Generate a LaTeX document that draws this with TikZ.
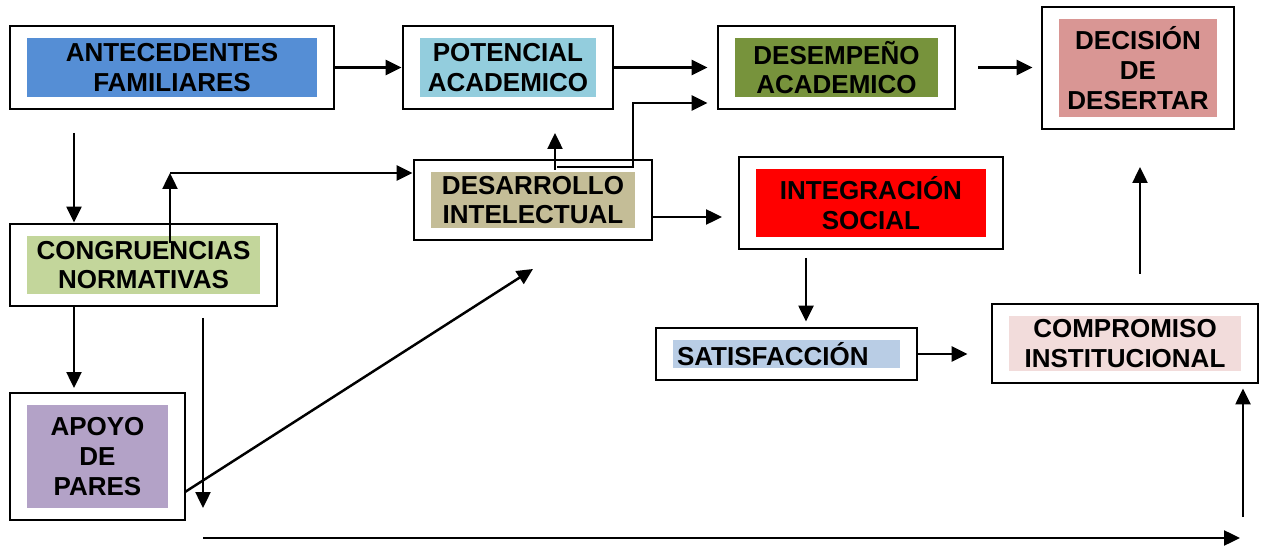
\documentclass[tikz,border=0pt]{standalone}
\usepackage{fontspec}
\setmainfont{Liberation Sans}
\usetikzlibrary{arrows.meta,fit}
\definecolor{colAnte}{HTML}{558ED5}
\definecolor{colPot}{HTML}{93CDDD}
\definecolor{colDesem}{HTML}{77933C}
\definecolor{colDeci}{HTML}{D99694}
\definecolor{colCong}{HTML}{C3D69B}
\definecolor{colDesa}{HTML}{C4BD97}
\definecolor{colInteg}{HTML}{FF0000}
\definecolor{colSatis}{HTML}{B9CDE5}
\definecolor{colComp}{HTML}{F2DCDB}
\definecolor{colApoyo}{HTML}{B3A2C7}
\begin{document}
\begin{tikzpicture}[x=0.02cm,y=-0.02cm,line width=1.4pt,
  relleno/.style={inner sep=0pt,align=center,font=\fontsize{14.8pt}{17pt}\selectfont\bfseries},
  marco/.style={draw,inner xsep=0.32cm,inner ysep=0.22cm},
  flecha/.style={-{Triangle[length=0.32cm,width=0.3cm]}}]
\useasboundingbox (0,0) rectangle (1262,547);
% cajas de color
\node [relleno,fill=colAnte,minimum width=5.8cm,minimum height=1.18cm] (ante) at (172,67.5) {ANTECEDENTES\\FAMILIARES};
\node [relleno,fill=colPot,minimum width=3.52cm,minimum height=1.18cm] (pot) at (508,67.5) {POTENCIAL\\ACADEMICO};
\node [relleno,fill=colDesem,minimum width=4.06cm,minimum height=1.18cm] (desem) at (836.5,67.5) {DESEMPEÑO\\ACADEMICO};
\node [relleno,fill=colDeci,minimum width=3.16cm,minimum height=1.96cm] (deci) at (1138,68) {DECISIÓN\\DE\\DESERTAR};
\node [relleno,fill=colCong,minimum width=4.66cm,minimum height=1.16cm] (cong) at (143.5,265) {CONGRUENCIAS\\NORMATIVAS};
\node [relleno,fill=colDesa,minimum width=4.08cm,minimum height=1.12cm] (desa) at (533,200) {DESARROLLO\\INTELECTUAL};
\node [relleno,fill=colInteg,minimum width=4.6cm,minimum height=1.36cm] (integ) at (871,203) {INTEGRACIÓN\\SOCIAL};
\node [relleno,fill=colSatis,inner xsep=0.08cm,text width=4.38cm,align=left,minimum height=0.56cm] (satis) at (786.5,354) {SATISFACCIÓN};
\node [relleno,fill=colComp,minimum width=4.64cm,minimum height=1.1cm] (comp) at (1125,343.5) {COMPROMISO\\INSTITUCIONAL};
\node [relleno,fill=colApoyo,minimum width=2.82cm,minimum height=2.06cm] (apoyo) at (97.5,456.5) {APOYO\\DE\\PARES};
% marcos
\node [marco,fit=(ante)] (anteF) {};
\node [marco,fit=(pot)] (potF) {};
\node [marco,fit=(desem)] (desemF) {};
\node [marco,fit=(deci)] (deciF) {};
\node [marco,fit=(cong)] (congF) {};
\node [marco,fit=(desa)] (desaF) {};
\node [marco,fit=(integ)] (integF) {};
\node [marco,fit=(satis)] (satisF) {};
\node [marco,fit=(comp)] (compF) {};
\node [marco,fit=(apoyo)] (apoyoF) {};
% puntos libres
\coordinate (a1) at (74,133);
\coordinate (a2) at (74,388);
\coordinate (c1) at (170,243);
\coordinate (c2) at (170,173);
\coordinate (d1) at (555,170);
\coordinate (d2) at (555,133);
\coordinate (d3) at (557,167);
\coordinate (d4) at (633,103);
\coordinate (d5) at (722,217);
\coordinate (i1) at (806,258);
\coordinate (k1) at (1140,274);
\coordinate (k2) at (1140,167);
\coordinate (v1) at (203,318);
\coordinate (v2) at (203,508);
\coordinate (g1) at (185,492);
\coordinate (g2) at (533,269);
\coordinate (h1) at (203,538);
\coordinate (h2) at (1240,538);
\coordinate (u1) at (1243,517);
% flechas
\draw [flecha] (anteF.east) -- (potF.west);
\draw [flecha,shorten >=0.18cm] (potF.east) -- (desemF.west);
\draw [flecha,shorten <=0.44cm,shorten >=0.16cm] (desemF.east) -- (desemF.east -| deciF.west);
\draw [flecha] (a1) -- (a1 |- congF.north);
\draw [flecha] (c1) -- (c2);
\draw [flecha] (c2) -- (c2 -| desaF.west);
\draw [flecha] (d1) -- (d2);
\draw [flecha,shorten >=0.18cm] (d3) -| (d4) -- (d4 -| desemF.west);
\draw [flecha] (desaF.east |- d5) -- (d5);
\draw [flecha,shorten >=0.1cm] (i1) -- (i1 |- satisF.north);
\draw [flecha,shorten >=0.46cm] (satisF.east) -- (satisF.east -| compF.west);
\draw [flecha] (k1) -- (k2);
\draw [flecha] (congF.south -| a2) -- (a2);
\draw [flecha] (v1) -- (v2);
\draw [flecha] (g1) -- (g2);
\draw [flecha] (h1) -- (h2);
\draw [flecha,shorten >=0.08cm] (u1) -- (u1 |- compF.south);
\end{tikzpicture}
\end{document}
